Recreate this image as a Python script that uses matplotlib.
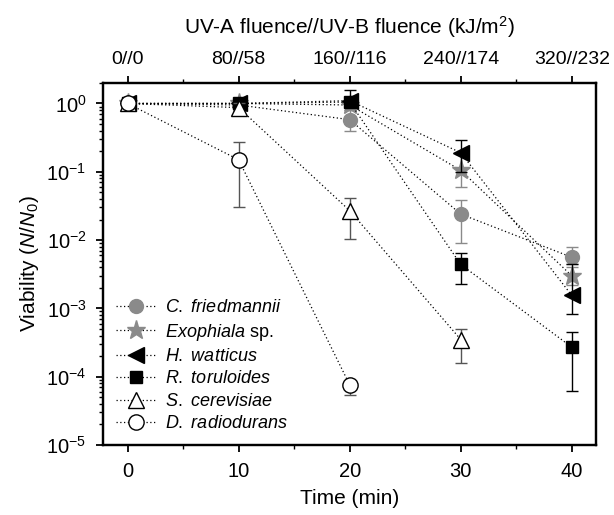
import matplotlib
matplotlib.use("Agg")
import matplotlib.pyplot as plt

plt.rcParams['font.family'] = ['Liberation Sans', 'DejaVu Sans']
plt.rcParams['mathtext.fontset'] = 'custom'
plt.rcParams['mathtext.rm'] = 'Liberation Sans'
plt.rcParams['mathtext.it'] = 'Liberation Sans:italic'

# data
time = [0, 10, 20, 30, 40]
top_labels = ['0//0', '80//58', '160//116', '240//174', '320//232']

cf = [1.0, 0.95, 0.58, 0.024, 0.0056]
cf_lo = [1.0, 0.85, 0.40, 0.009, 0.0045]
cf_hi = [1.0, 1.05, 0.80, 0.038, 0.0079]

ex = [1.0, 1.0, 0.95, 0.105, 0.003]
ex_lo = [1.0, 0.9, 0.8, 0.06, 0.0022]
ex_hi = [1.0, 1.1, 1.15, 0.18, 0.004]

hw = [1.0, 1.0, 1.1, 0.19, 0.00155]
hw_lo = [1.0, 0.95, 0.95, 0.10, 0.00083]
hw_hi = [1.0, 1.05, 1.6, 0.29, 0.0045]

rt = [1.0, 1.0, 1.05, 0.0044, 0.00027]
rt_lo = [1.0, 0.95, 0.95, 0.0023, 6.2e-5]
rt_hi = [1.0, 1.05, 1.2, 0.0065, 4.5e-4]

sc_time = [0, 10, 20, 30]
sc = [1.0, 0.87, 0.027, 3.5e-4]
sc_lo = [1.0, 0.75, 0.0102, 1.6e-4]
sc_hi = [1.0, 1.0, 0.041, 5e-4]

dr_time = [0, 10, 20]
dr = [1.0, 0.15, 7.6e-5]
dr_lo = [1.0, 0.030, 5.4e-5]
dr_hi = [1.0, 0.27, 8.5e-5]

gray = '#8a8a8a'

fig = plt.figure(figsize=(6.14, 5.15), dpi=100)
ax = fig.add_axes([0.168, 0.136, 0.803, 0.703])

series = [
    (time, cf, cf_lo, cf_hi, 'o', gray, gray, gray, r'$\it{C.\ friedmannii}$', 10),
    (time, ex, ex_lo, ex_hi, '*', gray, gray, gray, r'$\it{Exophiala}$ sp.', 14),
    (time, hw, hw_lo, hw_hi, '<', 'black', 'black', 'black', r'$\it{H.\ watticus}$', 11),
    (time, rt, rt_lo, rt_hi, 's', 'black', 'black', 'black', r'$\it{R.\ toruloides}$', 8.5),
    (sc_time, sc, sc_lo, sc_hi, '^', 'white', 'black', '#555555', r'$\it{S.\ cerevisiae}$', 11),
    (dr_time, dr, dr_lo, dr_hi, 'o', 'white', 'black', '#555555', r'$\it{D.\ radiodurans}$', 11),
]

for i, (t, y, lo, hi, m, fc, ec, errc, lab, ms) in enumerate(series):
    yerr = [[v - l for v, l in zip(y, lo)], [h - v for v, h in zip(y, hi)]]
    ax.errorbar(t, y, yerr=yerr, fmt='none', ecolor=errc, elinewidth=1.0,
                capsize=4, capthick=1.0, zorder=2 + i)
    ax.plot(t, y, linestyle=(0, (1, 2)), color='black', linewidth=0.9,
            marker=m, markersize=ms, markerfacecolor=fc, markeredgecolor=ec,
            markeredgewidth=1.0, label=lab, zorder=3 + i)

ax.set_yscale('log')
ax.set_ylim(1e-5, 2.0)
ax.set_xlim(-2.2, 42.2)
ax.set_xticks(time)
ax.set_xticks([5, 15, 25, 35], minor=True)
ax.set_xlabel('Time (min)', fontsize=15, labelpad=6)
ax.set_ylabel(r'Viability ($\it{N}$/$\it{N}_0$)', fontsize=15, labelpad=4)

for s in ax.spines.values():
    s.set_linewidth(1.6)

ax.tick_params(axis='both', which='major', direction='out', length=5, width=1.3,
               labelsize=14.5, pad=7)
ax.tick_params(axis='both', which='minor', direction='out', length=3, width=1.0)
ax.tick_params(axis='y', right=False)

top = ax.twiny()
top.set_xlim(ax.get_xlim())
top.set_xticks(time)
top.set_xticklabels(top_labels)
top.set_xticks([5, 15, 25, 35], minor=True)
top.tick_params(axis='x', which='major', direction='out', length=5, width=1.3,
                labelsize=14, pad=6)
top.tick_params(axis='x', which='minor', direction='out', length=3, width=1.0)
top.set_xlabel(r'UV-A fluence//UV-B fluence (kJ/m$^2$)', fontsize=15, labelpad=12)
for s in top.spines.values():
    s.set_linewidth(1.6)

ax.legend(loc='lower left', bbox_to_anchor=(0.0, 0.0), frameon=False, fontsize=13,
          handlelength=2.2, labelspacing=0.3, handletextpad=0.55, borderaxespad=0.3)

fig.savefig('out.png', dpi=100)
